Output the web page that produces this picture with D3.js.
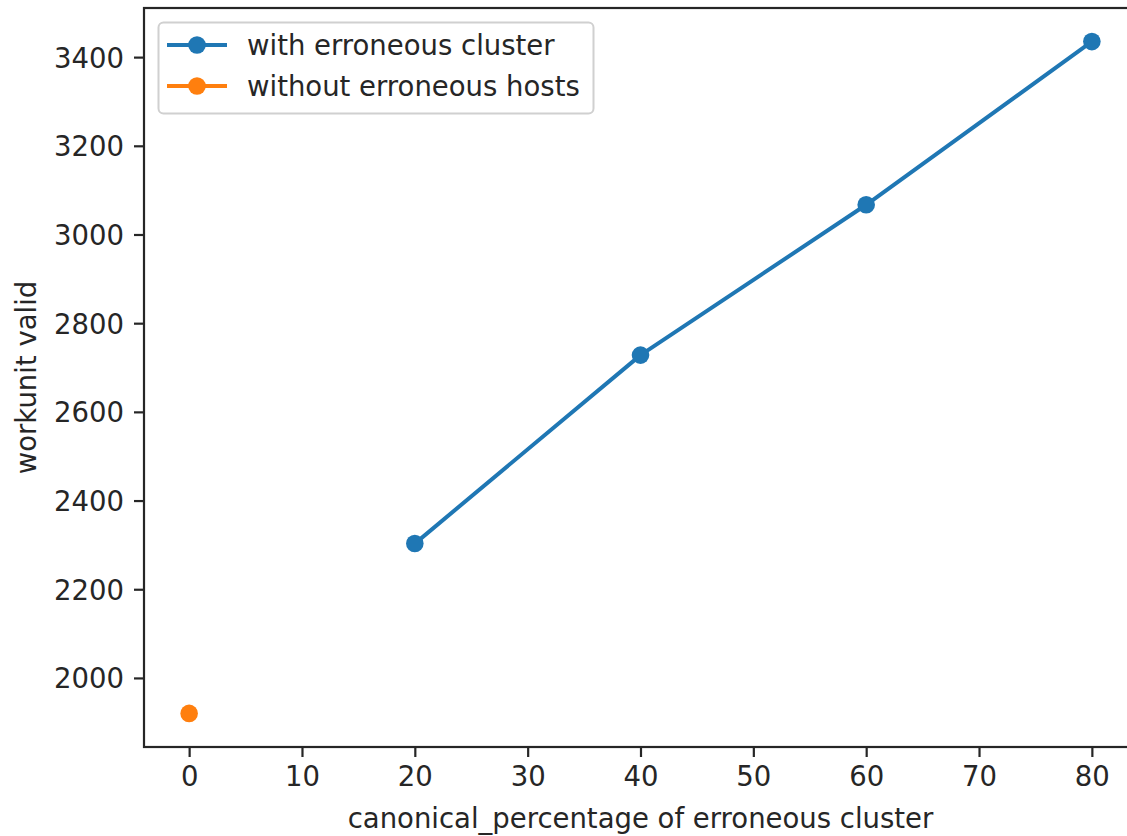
<!DOCTYPE html>
<html>
<head>
<meta charset="utf-8">
<script src="https://cdn.jsdelivr.net/npm/d3@7"></script>
<style>
  html, body { margin: 0; padding: 0; background: #fff; }
  svg { display: block; font-family: "DejaVu Sans", sans-serif; }
</style>
</head>
<body>
<svg id="chart" width="1127" height="836"></svg>
<script>
// ---- data ----
const withX = [20, 40, 60, 80];
const withY = [2303, 2728, 3067, 3435];
const withoutX = [0];
const withoutY = [1920];
const xTicks = [0, 10, 20, 30, 40, 50, 60, 70, 80];
const yTicks = [2000, 2200, 2400, 2600, 2800, 3000, 3200, 3400];
const seriesNames = ["with erroneous cluster", "without erroneous hosts"];
const seriesColors = ["#1f77b4", "#ff7f0e"];
const xLabel = "canonical_percentage of erroneous cluster";
const yLabel = "workunit valid";

// ---- layout ----
const svg = d3.select("#chart");
const L = 144, R = 1137, T = 8, B = 747;
const fs = 27.5;
const textColor = "#262626";
const mr = 8.8;
const lw = 4;

const allY = withY.concat(withoutY);
const yMin = d3.min(allY), yMax = d3.max(allY);
const yPad = (yMax - yMin) * 0.05;
const allX = withX.concat(withoutX);
const xMin = d3.min(allX), xMax = d3.max(allX);
const xPad = (xMax - xMin) * 0.05;

const x = d3.scaleLinear().domain([xMin - xPad, xMax + xPad]).range([L, R]);
const y = d3.scaleLinear().domain([yMin - yPad, yMax + yPad]).range([B, T]);

// axes
const xAxis = d3.axisBottom(x).tickValues(xTicks).tickSize(10).tickPadding(9).tickFormat(d3.format("d"));
const yAxis = d3.axisLeft(y).tickValues(yTicks).tickSize(10).tickPadding(10).tickFormat(d3.format("d"));

const gx = svg.append("g").attr("transform", `translate(0,${B})`).call(xAxis);
const gy = svg.append("g").attr("transform", `translate(${L},0)`).call(yAxis);
[gx, gy].forEach(g => {
  g.select(".domain").remove();
  g.selectAll(".tick line").attr("stroke", textColor).attr("stroke-width", 2.2);
  g.selectAll(".tick text").attr("fill", textColor).style("font-size", fs + "px")
    .style("font-family", "DejaVu Sans, sans-serif");
});
gx.selectAll(".tick text").attr("dy", "0.71em");
gy.selectAll(".tick text").attr("dy", "0.36em");

// spines
svg.append("rect").attr("x", L).attr("y", T).attr("width", R - L).attr("height", B - T)
  .attr("fill", "none").attr("stroke", textColor).attr("stroke-width", 2.2);

// series: with erroneous cluster
const line = d3.line().x(d => x(d[0])).y(d => y(d[1]));
const withPts = withX.map((v, i) => [v, withY[i]]);
svg.append("path").datum(withPts).attr("d", line)
  .attr("fill", "none").attr("stroke", seriesColors[0]).attr("stroke-width", lw)
  .attr("stroke-linejoin", "round").attr("stroke-linecap", "square");
svg.append("g").selectAll("circle").data(withPts).join("circle")
  .attr("cx", d => x(d[0])).attr("cy", d => y(d[1])).attr("r", mr)
  .attr("fill", seriesColors[0]);

// series: without erroneous hosts
const withoutPts = withoutX.map((v, i) => [v, withoutY[i]]);
svg.append("g").selectAll("circle").data(withoutPts).join("circle")
  .attr("cx", d => x(d[0])).attr("cy", d => y(d[1])).attr("r", mr)
  .attr("fill", seriesColors[1]);

// axis labels
svg.append("text").attr("x", (L + R) / 2).attr("y", 828).attr("text-anchor", "middle")
  .attr("fill", textColor).style("font-size", fs + "px").text(xLabel);
svg.append("text").attr("transform", `translate(36,${(T + B) / 2}) rotate(-90)`)
  .attr("text-anchor", "middle").attr("fill", textColor).style("font-size", fs + "px").text(yLabel);

// legend
const lg = svg.append("g");
lg.append("rect").attr("x", 158.5).attr("y", 22.5).attr("width", 435).attr("height", 91)
  .attr("rx", 5).attr("fill", "#fff").attr("fill-opacity", 0.8)
  .attr("stroke", "#d0d0d0").attr("stroke-width", 2);
seriesNames.forEach((name, i) => {
  const cy = 45 + i * 41;
  lg.append("line").attr("x1", 167).attr("x2", 227).attr("y1", cy).attr("y2", cy)
    .attr("stroke", seriesColors[i]).attr("stroke-width", lw);
  lg.append("circle").attr("cx", 197).attr("cy", cy).attr("r", mr).attr("fill", seriesColors[i]);
  lg.append("text").attr("x", 247).attr("y", cy).attr("dy", "0.36em")
    .attr("fill", textColor).style("font-size", fs + "px").text(name);
});
</script>
</body>
</html>
